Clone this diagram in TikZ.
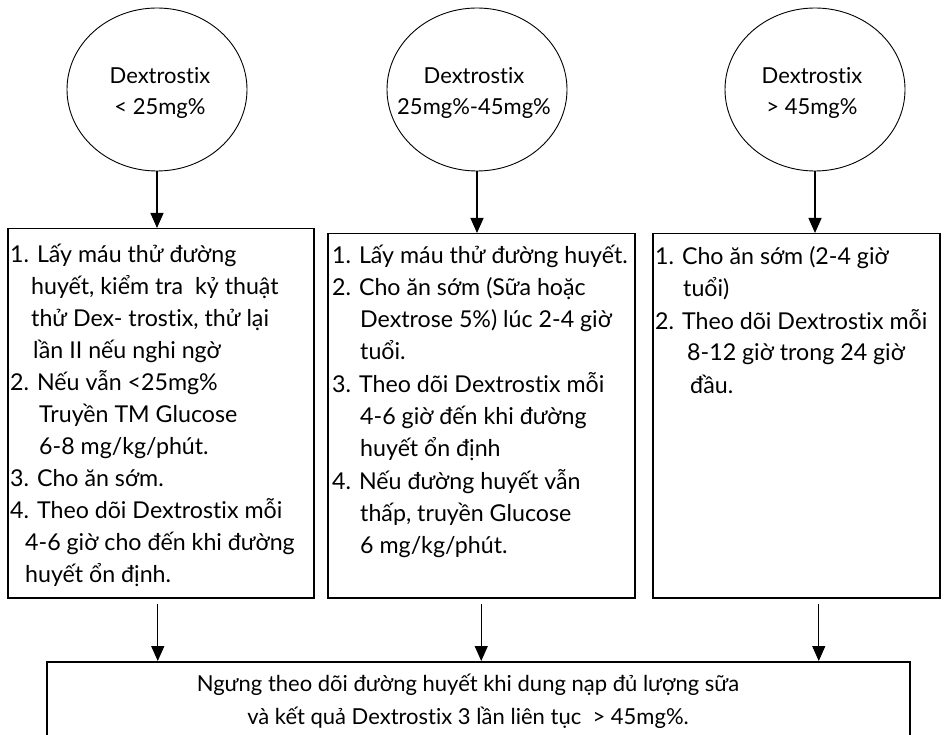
\documentclass[tikz,border=0pt]{standalone}
\usepackage{fontspec}
\setmainfont{Lato}[Ligatures=NoCommon]
\usetikzlibrary{arrows.meta,shapes.geometric}
\begin{document}
\begin{tikzpicture}[x=1pt,y=-1pt,
  oval/.style={draw, ellipse, line width=0.9pt, minimum width=180pt, minimum height=163pt, inner sep=0},
  panel/.style={draw, rectangle, line width=1.5pt, inner sep=0, anchor=north west},
  body/.style={anchor=base west, inner sep=0, font=\fontsize{23.2}{32}\selectfont},
  lbl/.style={anchor=base, inner sep=0, font=\fontsize{22}{31}\selectfont},
  arr/.style={line width=1.3pt, -{Triangle[length=15pt,width=13pt]}}]
\clip (0,0) rectangle (944,735);
\fill[white] (0,0) rectangle (944,735);
% ovals
\node[oval] (e1) at (157,89.5) {};
\node[oval] (e2) at (477,89.5) {};
\node[oval] (e3) at (815,89.5) {};
\node[lbl] (l1) at (160,84) {\begin{tabular}[t]{@{}c@{}}Dextrostix\\< 25mg\%\end{tabular}};
\node[lbl] (l2) at (474,84) {\begin{tabular}[t]{@{}c@{}}Dextrostix\\25mg\%-45mg\%\end{tabular}};
\node[lbl] (l3) at (812,84) {\begin{tabular}[t]{@{}c@{}}Dextrostix\\> 45mg\%\end{tabular}};
% boxes
\node[panel, minimum width=306pt, minimum height=369pt] (b1) at (7,228) {};
\node[panel, minimum width=307pt, minimum height=364pt] (b2) at (327,233) {};
\node[panel, minimum width=287pt, minimum height=364pt] (b3) at (652,233) {};
\node[panel, minimum width=863pt, minimum height=110pt] (bot) at (46,661) {};
% box texts
\node[body] (t1) at (10,262) {\begin{tabular}[t]{@{}l@{}}
1. Lấy máu thử đường\\
\hspace*{21pt}huyết, kiểm tra\ \ kỷ thuật\\
\hspace*{21pt}thử Dex- trostix, thử lại\\
\hspace*{23pt}lần II nếu nghi ngờ\\
2. Nếu vẫn <25mg\%\\
\hspace*{29pt}Truyền TM Glucose\\
\hspace*{29pt}6-8 mg/kg/phút.\\
3. Cho ăn sớm.\\
4. Theo dõi Dextrostix mỗi\\
\hspace*{15pt}4-6 giờ cho đến khi đường\\
\hspace*{15pt}huyết ổn định.
\end{tabular}};
\node[body, font=\fontsize{23.2}{32.3}\selectfont] (t2) at (332,263) {\begin{tabular}[t]{@{}l@{}}
1. Lấy máu thử đường huyết.\\
2. Cho ăn sớm (Sữa hoặc\\
\hspace*{28pt}Dextrose 5\%) lúc 2-4 giờ\\
\hspace*{28pt}tuổi.\\
3. Theo dõi Dextrostix mỗi\\
\hspace*{28pt}4-6 giờ đến khi đường\\
\hspace*{28pt}huyết ổn định\\
4. Nếu đường huyết vẫn\\
\hspace*{28pt}thấp, truyền Glucose\\
\hspace*{28pt}6 mg/kg/phút.
\end{tabular}};
\node[body] (t3) at (655,265) {\begin{tabular}[t]{@{}l@{}}
1. Cho ăn sớm (2-4 giờ\\
\hspace*{28pt}tuổi)\\
2. Theo dõi Dextrostix mỗi\\
\hspace*{32pt}8-12 giờ trong 24 giờ\\
\hspace*{35pt}đầu.
\end{tabular}};
\node[lbl, font=\fontsize{22}{33}\selectfont] (t4) at (468,691) {\begin{tabular}[t]{@{}c@{}}
Ngưng theo dõi đường huyết khi dung nạp đủ lượng sữa\\
và kết quả Dextrostix 3 lần liên tục\ \ > 45mg\%.
\end{tabular}};
% connectors top
\draw[arr] (e1.south) -- (e1.south |- b1.north);
\draw[arr] (e2.south) -- (e2.south |- b2.north);
\draw[arr] (e3.south) -- (e3.south |- b3.north);
% connectors bottom
\coordinate (s1) at ([xshift=-3pt,yshift=-5pt]b1.south);
\coordinate (s2) at ([yshift=-5pt]b2.south);
\coordinate (s3) at ([xshift=22.5pt,yshift=-5pt]b3.south);
\draw[arr] (s1) -- (s1 |- bot.north);
\draw[arr] (s2) -- (s2 |- bot.north);
\draw[arr] (s3) -- (s3 |- bot.north);
\end{tikzpicture}
\end{document}
